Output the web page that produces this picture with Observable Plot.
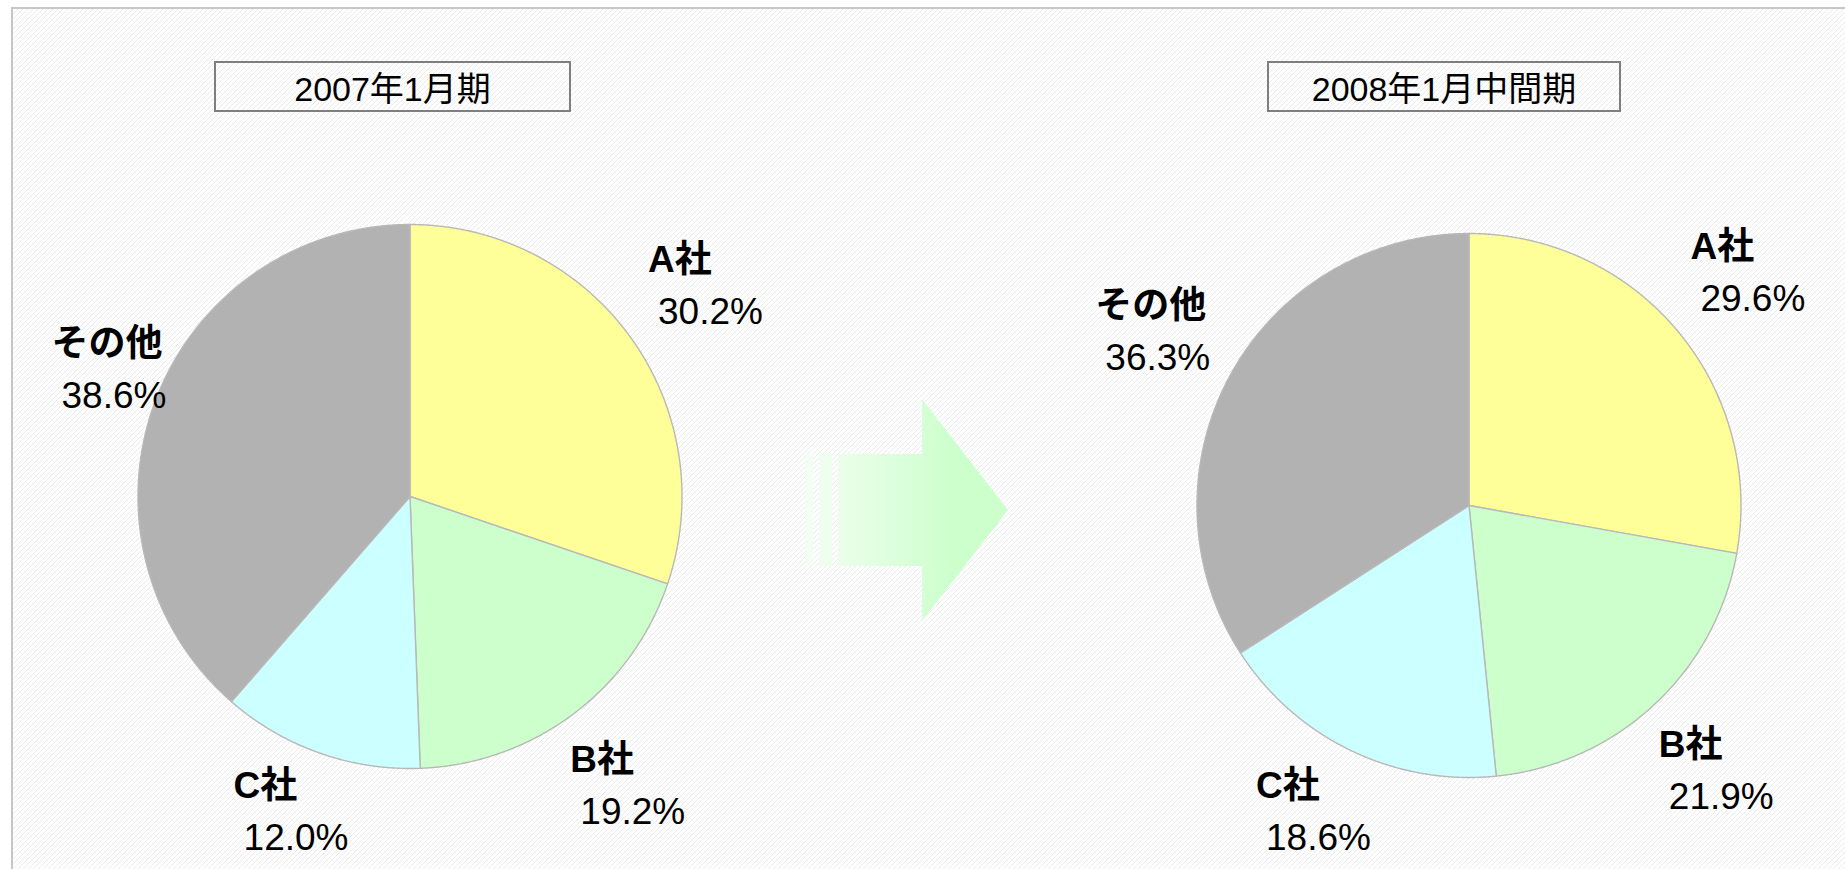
<!DOCTYPE html>
<html>
<head>
<meta charset="utf-8">
<script src="https://cdn.jsdelivr.net/npm/d3@7"></script>
<script src="https://cdn.jsdelivr.net/npm/@observablehq/plot@0.6"></script>
<style>
html, body { margin: 0; padding: 0; background: #fff; }
#stage { position: relative; width: 1845px; height: 869px; overflow: hidden; background: #fff; }
#frame { position: absolute; left: 11px; top: 7px; right: -10px; bottom: -10px;
  border-top: 2px solid #c6c6c6; border-left: 2px solid #c6c6c6;
  background-color: #fff;
  background-image: url("data:image/svg+xml,%3Csvg xmlns='http://www.w3.org/2000/svg' width='5' height='5'%3E%3Cpath d='M-1,6 L6,-1 M-1,1 L1,-1 M4,6 L6,4' stroke='%23ebebeb' stroke-width='1'/%3E%3C/svg%3E");
  background-size: 5px 5px; }
.title { position: absolute; box-sizing: border-box; border: 2px solid #7f7f7f;
  font-family: "Liberation Sans", "Noto Sans CJK JP", sans-serif; font-size: 34px; color: #000;
  display: flex; align-items: center; justify-content: center; }
.plot { position: absolute; top: 0; }
</style>
</head>
<body>
<div id="stage">
  <div id="frame"></div>
  <svg id="arrow" width="1845" height="869" style="position:absolute;left:0;top:0">
    <defs>
      <linearGradient id="ag" gradientUnits="userSpaceOnUse" x1="806" y1="0" x2="955" y2="0">
        <stop offset="0" stop-color="#f3fff3"/>
        <stop offset="1" stop-color="#ccffcc"/>
      </linearGradient>
    </defs>
    <rect x="806" y="454" width="7" height="112" fill="url(#ag)"/>
    <rect x="819" y="454" width="13" height="112" fill="url(#ag)"/>
    <path d="M838,454 H922 V399 L1008,510 L922,621 V566 H838 Z" fill="url(#ag)"/>
  </svg>
</div>
<script>
// ---- data ----
const categories = ["A社", "B社", "C社", "その他"];
const share2007 = [30.2, 19.2, 12.0, 38.6];
const share2008 = [29.6, 21.9, 18.6, 36.3];
const periods = ["2007年1月期", "2008年1月中間期"];
const sliceColors = ["#ffff99", "#ccffcc", "#ccffff", "#b2b2b2"];

// ---- layout ----
const R = 272;
const labelFont = "'Liberation Sans', 'Noto Sans CJK JP', sans-serif";
const panels = [
  {values: share2007, left: 0, width: 922, cx: 409.5, cy: 496, title: {left: 214, top: 61, width: 357, height: 51}},
  {values: share2008, left: 922, width: 923, cx: 546.5, cy: 505, title: {left: 1267, top: 61, width: 354, height: 51}}
];
const labelK = 1.33;
const labelLeftLimit = 107;   // keep label blocks inside the frame
const labelBottomLimit = 812;

const stage = document.getElementById("stage");

panels.forEach((p, pi) => {
  // title box
  const t = document.createElement("div");
  t.className = "title";
  Object.assign(t.style, {left: p.title.left + "px", top: p.title.top + "px", width: p.title.width + "px", height: p.title.height + "px"});
  t.textContent = periods[pi];
  stage.appendChild(t);

  const arcs = d3.pie().sort(null).value(d => d)(p.values);
  const pts = [];
  const labels = [];
  arcs.forEach((a, i) => {
    const name = categories[i];
    pts.push({name, x: 0, y: 0});
    const n = Math.max(2, Math.ceil((a.endAngle - a.startAngle) / 0.004));
    for (let k = 0; k <= n; k++) {
      const ang = a.startAngle + (a.endAngle - a.startAngle) * k / n;
      pts.push({name, x: Math.sin(ang), y: Math.cos(ang)});
    }
    pts.push({name, x: 0, y: 0});
    const mid = (a.startAngle + a.endAngle) / 2;
    let lx = labelK * Math.sin(mid);
    let ly = labelK * Math.cos(mid);
    lx = Math.max(lx, (labelLeftLimit - p.left - p.cx) / R);
    ly = Math.max(ly, (p.cy - labelBottomLimit) / R);
    labels.push({name, x: lx, y: ly, value: p.values[i].toFixed(1) + "%"});
  });

  const chart = Plot.plot({
    width: p.width,
    height: 869,
    margin: 0,
    x: {domain: [-1, 1], range: [p.cx - R, p.cx + R], axis: null},
    y: {domain: [-1, 1], range: [p.cy + R, p.cy - R], axis: null},
    color: {domain: categories, range: sliceColors},
    style: {background: "transparent", overflow: "visible", fontFamily: labelFont},
    marks: [
      Plot.line(pts, {x: "x", y: "y", z: "name", fill: "name", stroke: "#b8b8b8", strokeWidth: 1.4, curve: "linear"}),
      Plot.text(labels, {x: "x", y: "y", text: "name", textAnchor: "start", lineAnchor: "middle",
        dx: -56, dy: -26, fontSize: 37, fontWeight: "bold", fill: "#000", fontFamily: labelFont}),
      Plot.text(labels, {x: "x", y: "y", text: "value", textAnchor: "start", lineAnchor: "middle",
        dx: -46, dy: 26, fontSize: 37, fill: "#000", fontFamily: labelFont})
    ]
  });
  chart.classList.add("plot");
  chart.style.left = p.left + "px";
  stage.appendChild(chart);
});
</script>
</body>
</html>
